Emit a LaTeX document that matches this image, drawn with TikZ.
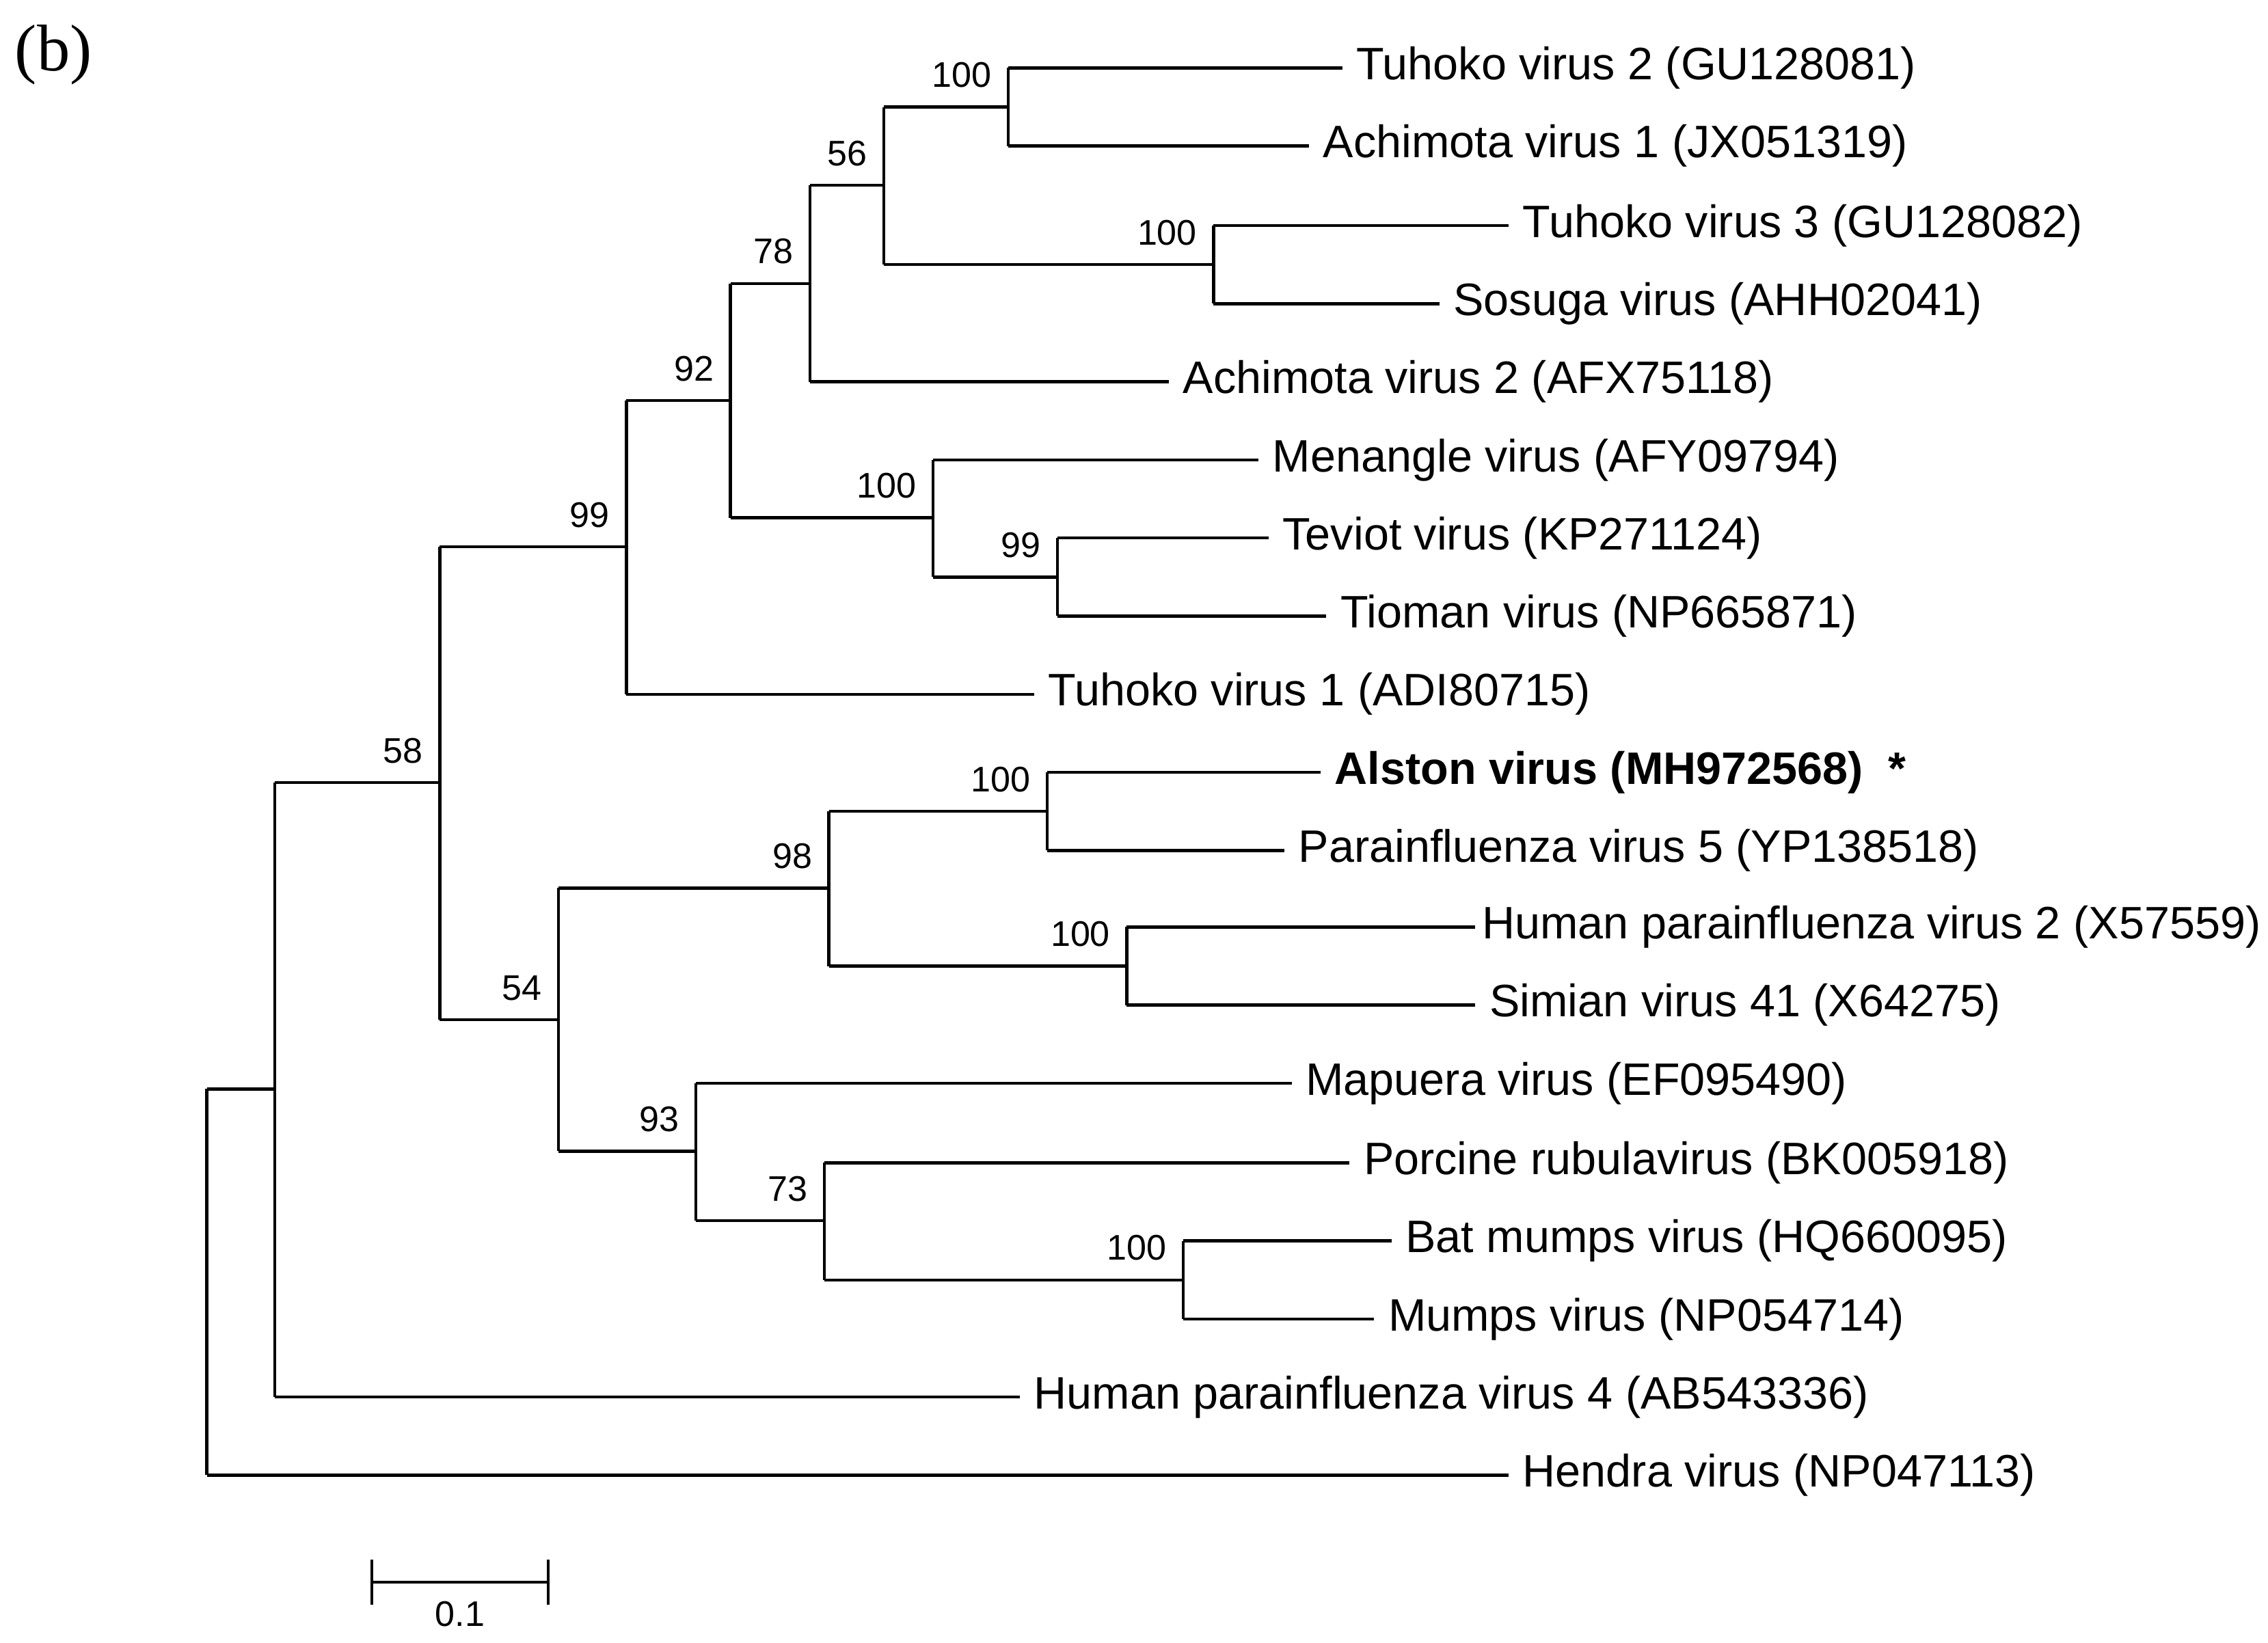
\documentclass[tikz,border=0pt]{standalone}
\usepackage{fontspec}
\setmainfont{Liberation Serif}
\newfontfamily\lab{Liberation Sans}
\begin{document}
\begin{tikzpicture}[x=0.02cm,y=-0.02cm,line width=1.2pt,
  leaf/.style={anchor=west,font=\lab\fontsize{17.9}{20}\selectfont,inner sep=0pt,xshift=5},
  boot/.style={anchor=south east,font=\lab\fontsize{14}{16}\selectfont,inner sep=0pt,xshift=-6,yshift=7}]
\useasboundingbox (0,0) rectangle (1568,1136);
\node[font=\fontsize{26}{30}\selectfont,anchor=center] (b) at (37,38) {(b)};
% leaf ends
\coordinate (lT2) at (928,47); \coordinate (lA1) at (905,101);
\coordinate (lT3) at (1043,156); \coordinate (lSo) at (995,210);
\coordinate (lA2) at (808,264); \coordinate (lMe) at (870,318);
\coordinate (lTe) at (877,372); \coordinate (lTi) at (917,426);
\coordinate (lT1) at (715,480); \coordinate (lAl) at (913,534);
\coordinate (lP5) at (888,588); \coordinate (lH2) at (1020,641);
\coordinate (lSV) at (1020,695); \coordinate (lMa) at (893,749);
\coordinate (lPo) at (933,804); \coordinate (lBa) at (962,858);
\coordinate (lMu) at (950,912); \coordinate (lH4) at (705,966);
\coordinate (lHe) at (1043,1020);
% internal nodes
\coordinate (a) at (697,74); \coordinate (bb) at (839,183);
\coordinate (c) at (611,128); \coordinate (d) at (560,196);
\coordinate (e) at (731,399); \coordinate (f) at (645,358);
\coordinate (g) at (505,277); \coordinate (h) at (433,378);
\coordinate (i) at (724,561); \coordinate (j) at (779,668);
\coordinate (k) at (573,614); \coordinate (l) at (818,885);
\coordinate (m) at (570,844); \coordinate (n) at (481,796);
\coordinate (o) at (386,705); \coordinate (p) at (304,541);
\coordinate (q) at (190,753); \coordinate (r) at (143,886);
% edges
\foreach \pn/\ca/\cb in {a/lT2/lA1, bb/lT3/lSo, c/a/bb, d/c/lA2, e/lTe/lTi, f/lMe/e, g/d/f, h/g/lT1, i/lAl/lP5, j/lH2/lSV, k/i/j, l/lBa/lMu, m/lPo/l, n/lMa/m, o/k/n, p/h/o, q/p/lH4, r/q/lHe}{
  \draw (\pn |- \ca) -- (\pn |- \cb);
  \draw (\pn |- \ca) -- (\ca);
  \draw (\pn |- \cb) -- (\cb);
}
% bootstrap
\node[boot] (ba) at (a) {100}; \node[boot] (bbb) at (bb) {100};
\node[boot] (bc) at (c) {56}; \node[boot] (bd) at (d) {78};
\node[boot] (be) at (e) {99}; \node[boot] (bf) at (f) {100};
\node[boot] (bg) at (g) {92}; \node[boot] (bh) at (h) {99};
\node[boot] (bi) at (i) {100}; \node[boot] (bj) at (j) {100};
\node[boot] (bk) at (k) {98}; \node[boot] (bl) at (l) {100};
\node[boot] (bm) at (m) {73}; \node[boot] (bn) at (n) {93};
\node[boot] (bo) at (o) {54}; \node[boot] (bp) at (p) {58};
% leaf labels
\node[leaf] (tT2) at (lT2) {Tuhoko virus 2 (GU128081)};
\node[leaf] (tA1) at (lA1) {Achimota virus 1 (JX051319)};
\node[leaf] (tT3) at (lT3) {Tuhoko virus 3 (GU128082)};
\node[leaf] (tSo) at (lSo) {Sosuga virus (AHH02041)};
\node[leaf] (tA2) at (lA2) {Achimota virus 2 (AFX75118)};
\node[leaf] (tMe) at (lMe) {Menangle virus (AFY09794)};
\node[leaf] (tTe) at (lTe) {Teviot virus (KP271124)};
\node[leaf] (tTi) at (lTi) {Tioman virus (NP665871)};
\node[leaf] (tT1) at (lT1) {Tuhoko virus 1 (ADI80715)};
\node[leaf] (tAl) at (lAl) {\bfseries Alston virus (MH972568)\ \ *};
\node[leaf] (tP5) at (lP5) {Parainfluenza virus 5 (YP138518)};
\node[leaf,xshift=-3] (tH2) at (lH2) {Human parainfluenza virus 2 (X57559)};
\node[leaf] (tSV) at (lSV) {Simian virus 41 (X64275)};
\node[leaf] (tMa) at (lMa) {Mapuera virus (EF095490)};
\node[leaf] (tPo) at (lPo) {Porcine rubulavirus (BK005918)};
\node[leaf] (tBa) at (lBa) {Bat mumps virus (HQ660095)};
\node[leaf] (tMu) at (lMu) {Mumps virus (NP054714)};
\node[leaf] (tH4) at (lH4) {Human parainfluenza virus 4 (AB543336)};
\node[leaf] (tHe) at (lHe) {Hendra virus (NP047113)};
% scale bar
\coordinate (s1) at (257,1094); \coordinate (s2) at (379,1094);
\draw (s1) -- (s2);
\draw ([yshift=9]s1) -- ([yshift=-9]s1);
\draw ([yshift=9]s2) -- ([yshift=-9]s2);
\node[font=\lab\fontsize{14}{16}\selectfont,anchor=center] (sc) at (318,1116) {0.1};
\end{tikzpicture}
\end{document}
